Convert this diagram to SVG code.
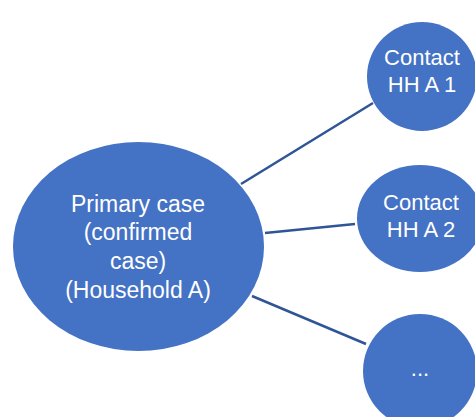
<svg xmlns="http://www.w3.org/2000/svg" width="475" height="417" viewBox="0 0 475 417">
  <style>
    .node { fill: #4472C4; }
    .label { fill: #FFFFFF; font-family: "Liberation Sans", Arial, sans-serif; text-anchor: middle; }
    .big { font-size: 23px; }
    .small { font-size: 22px; }
    .edge { stroke: #2F5597; stroke-width: 2.5; fill: none; }
  </style>
  <rect width="475" height="417" fill="#FFFFFF"/>
  <g id="connectors">
    <line class="edge" x1="241" y1="184" x2="373" y2="103"/>
    <line class="edge" x1="265" y1="233" x2="355" y2="224"/>
    <line class="edge" x1="252" y1="296" x2="366" y2="344"/>
  </g>
  <g id="primary">
    <ellipse class="node" cx="138.5" cy="246.5" rx="125.5" ry="104.5"/>
    <text class="label big" x="138" y="212">Primary case</text>
    <text class="label big" x="138" y="240">(confirmed</text>
    <text class="label big" x="138" y="269">case)</text>
    <text class="label big" x="138" y="298">(Household A)</text>
  </g>
  <g id="contact1">
    <ellipse class="node" cx="422" cy="76.5" rx="55" ry="54.5"/>
    <text class="label small" x="422" y="65">Contact</text>
    <text class="label small" x="422" y="92">HH A 1</text>
  </g>
  <g id="contact2">
    <ellipse class="node" cx="420" cy="218.5" rx="63" ry="53.5"/>
    <text class="label small" x="421" y="210">Contact</text>
    <text class="label small" x="421" y="237">HH A 2</text>
  </g>
  <g id="contact3">
    <ellipse class="node" cx="420" cy="371" rx="57" ry="57"/>
    <text class="label small" x="420" y="376">...</text>
  </g>
</svg>
